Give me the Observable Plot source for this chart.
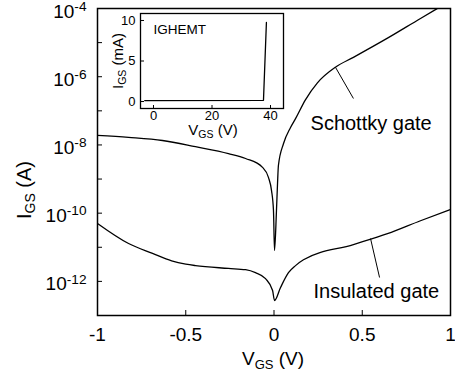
<!DOCTYPE html>
<html><head><meta charset="utf-8">
<script src="https://cdn.jsdelivr.net/npm/d3@7"></script>
<script src="https://cdn.jsdelivr.net/npm/@observablehq/plot@0.6"></script>
<style>
body{margin:0;background:#fff;}
#wrap{position:relative;width:455px;height:375px;font-family:"Liberation Sans",Arial,sans-serif;}
#main{position:absolute;left:0;top:0;}
#inset{position:absolute;left:0;top:0;}
</style></head><body><div id="wrap"><div id="main"></div><div id="inset"></div></div>
<script>
// Schottky gate: V_GS (V) and I_GS (A)
const schottkyV = [-1, -0.824, -0.632, -0.445, -0.258, -0.161, -0.065, -0.031, -0.014, -0.003, 0.003, 0.014, 0.020, 0.025, 0.054, 0.093, 0.122, 0.178, 0.246, 0.348, 0.450, 0.643, 0.830, 0.926];
const schottkyI = [1.9e-8, 1.66e-8, 1.35e-8, 8.9e-9, 5.6e-9, 4.0e-9, 2.2e-9, 1.1e-9, 4.6e-10, 1.2e-10, 8e-12, 1.2e-10, 7.4e-10, 2.5e-9, 1.1e-8, 3.2e-8, 5.9e-8, 2.1e-7, 6.6e-7, 1.9e-6, 3.7e-6, 1.35e-5, 5.1e-5, 1e-4];
// Insulated gate
const insulatedV = [-1, -0.824, -0.688, -0.580, -0.500, -0.445, -0.258, -0.161, -0.105, -0.048, -0.008, 0.003, 0.037, 0.082, 0.122, 0.167, 0.450, 0.643, 0.830, 1.0];
const insulatedI = [5.0e-11, 1.29e-11, 6.6e-12, 4.0e-12, 3.2e-12, 2.9e-12, 2.4e-12, 2.2e-12, 1.8e-12, 1.2e-12, 5.4e-13, 2.75e-13, 6.6e-13, 1.8e-12, 2.9e-12, 4.3e-12, 1.2e-11, 2.5e-11, 6.0e-11, 1.29e-10];
// Inset IGHEMT: V_GS (V), I_GS (mA)
const insetV = [-3, 37.6, 38.6];
const insetI = [0.12, 0.15, 9.75];
// ticks
const xTickLabels = [-1, -0.5, 0, 0.5, 1];
const xInnerTicks = [-0.5, 0, 0.5];
const yLabelExps = [-12, -10, -8, -6, -4];
const yTickExps = [-12, -11, -10, -9, -8, -7, -6, -5];
const insetXTicks = [0, 20, 40];
const insetYTicks = [0, 5, 10];
// annotations
const annotLabels = ["Schottky gate", "Insulated gate"];
const annotX = [0.207, 0.224];
const annotY = [4.3e-8, 5e-13];
const leaderX1 = [0.348, 0.547], leaderY1 = [1.9e-6, 1.8e-11];
const leaderX2 = [0.450, 0.598], leaderY2 = [2.3e-7, 1.3e-12];

const font = "Liberation Sans, Arial, sans-serif";
const schottky = schottkyV.map((v, k) => ({v, i: schottkyI[k]}));
const insulated = insulatedV.map((v, k) => ({v, i: insulatedI[k]}));
const inset = insetV.map((v, k) => ({v, i: insetI[k]}));
const annots = annotLabels.map((t, k) => ({t, x: annotX[k], y: annotY[k]}));
const leaders = leaderX1.map((x1, k) => ({x1, y1: leaderY1[k], x2: leaderX2[k], y2: leaderY2[k]}));

const main = Plot.plot({
  width: 455, height: 375,
  marginLeft: 97, marginRight: 5, marginTop: 8, marginBottom: 60,
  style: {fontFamily: font, background: "white", color: "black", overflow: "visible"},
  x: {domain: [-1, 1]},
  y: {type: "log", domain: [1e-13, 1e-4]},
  marks: [
    Plot.axisX(xInnerTicks, {tickSize: -5, tickFormat: () => "", label: null, strokeWidth: 1}),
    Plot.axisX(xTickLabels, {tickSize: 0, tickPadding: 12, tickFormat: d => String(d), fontSize: 19, label: null}),
    Plot.axisY(yTickExps.map(e => 10 ** e), {tickSize: -5, tickFormat: () => "", label: null}),
    Plot.axisY(yLabelExps.map(e => 10 ** e), {tickSize: 0, tickPadding: 11, tickFormat: d => "10^" + Math.round(Math.log10(d)), fontSize: 19, dy: 3, label: null}),
    Plot.line(insulated, {x: "v", y: "i", curve: "monotone-x", strokeWidth: 1.3, clip: true}),
    Plot.line(schottky, {x: "v", y: "i", curve: "monotone-x", strokeWidth: 1.3, clip: true}),
    Plot.link(leaders, {x1: "x1", y1: "y1", x2: "x2", y2: "y2", strokeWidth: 1}),
    Plot.text(annots, {x: "x", y: "y", text: "t", textAnchor: "start", fontSize: 20}),
    Plot.frame({stroke: "black", strokeWidth: 1.5})
  ]
});
document.getElementById("main").appendChild(main);

const svg = d3.select(main);
svg.selectAll("text").each(function() {
  const t = this.textContent;
  if (t.startsWith("10^")) {
    const e = t.slice(3);
    this.textContent = "";
    d3.select(this).append("tspan").text("10");
    d3.select(this).append("tspan").attr("dy", "-0.5em").attr("font-size", "0.72em").text(e);
  }
});
// axis titles
const xt = svg.append("text").attr("x", 273).attr("y", 365).attr("text-anchor", "middle")
  .attr("font-size", 19).attr("font-family", font).attr("fill", "black");
xt.append("tspan").text("V");
xt.append("tspan").attr("font-size", 13).attr("dy", 4).text("GS");
xt.append("tspan").attr("dy", -4).text(" (V)");
const yt = svg.append("text").attr("transform", "translate(31,190) rotate(-90)").attr("text-anchor", "middle")
  .attr("font-size", 20).attr("font-family", font).attr("fill", "black");
yt.append("tspan").text("I");
yt.append("tspan").attr("font-size", 14).attr("dy", 4).text("GS");
yt.append("tspan").attr("dy", -4).text(" (A)");

// inset
const ins = Plot.plot({
  width: 300, height: 140,
  marginLeft: 140, marginRight: 17, marginTop: 13, marginBottom: 32,
  style: {fontFamily: font, background: "transparent", color: "black", overflow: "visible"},
  x: {domain: [-4.44, 44.44]},
  y: {domain: [-0.86, 10.86]},
  marks: [
    Plot.axisX(insetXTicks, {tickSize: -3, tickFormat: () => "", label: null}),
    Plot.axisX(insetXTicks, {tickSize: 0, tickPadding: 2, fontSize: 13, label: null}),
    Plot.axisY(insetYTicks, {tickSize: -4, tickFormat: () => "", label: null}),
    Plot.axisY(insetYTicks, {tickSize: 0, tickPadding: 5, fontSize: 13, label: null}),
    Plot.line(inset, {x: "v", y: "i", strokeWidth: 1.3}),
    Plot.text(["IGHEMT"], {frameAnchor: "top-left", dx: 13, dy: 16, fontSize: 13.5, lineAnchor: "middle"}),
    Plot.frame({stroke: "black", strokeWidth: 1.3})
  ]
});
document.getElementById("inset").appendChild(ins);
const isvg = d3.select(ins);
const ixt = isvg.append("text").attr("x", 213).attr("y", 135).attr("text-anchor", "middle")
  .attr("font-size", 15).attr("font-family", font).attr("fill", "black");
ixt.append("tspan").text("V");
ixt.append("tspan").attr("font-size", 10.5).attr("dy", 3).text("GS");
ixt.append("tspan").attr("dy", -3).text(" (V)");
const iyt = isvg.append("text").attr("transform", "translate(123,61) rotate(-90)").attr("text-anchor", "middle")
  .attr("font-size", 15).attr("font-family", font).attr("fill", "black");
iyt.append("tspan").text("I");
iyt.append("tspan").attr("font-size", 10.5).attr("dy", 3).text("GS");
iyt.append("tspan").attr("dy", -3).text(" (mA)");
</script></body></html>
